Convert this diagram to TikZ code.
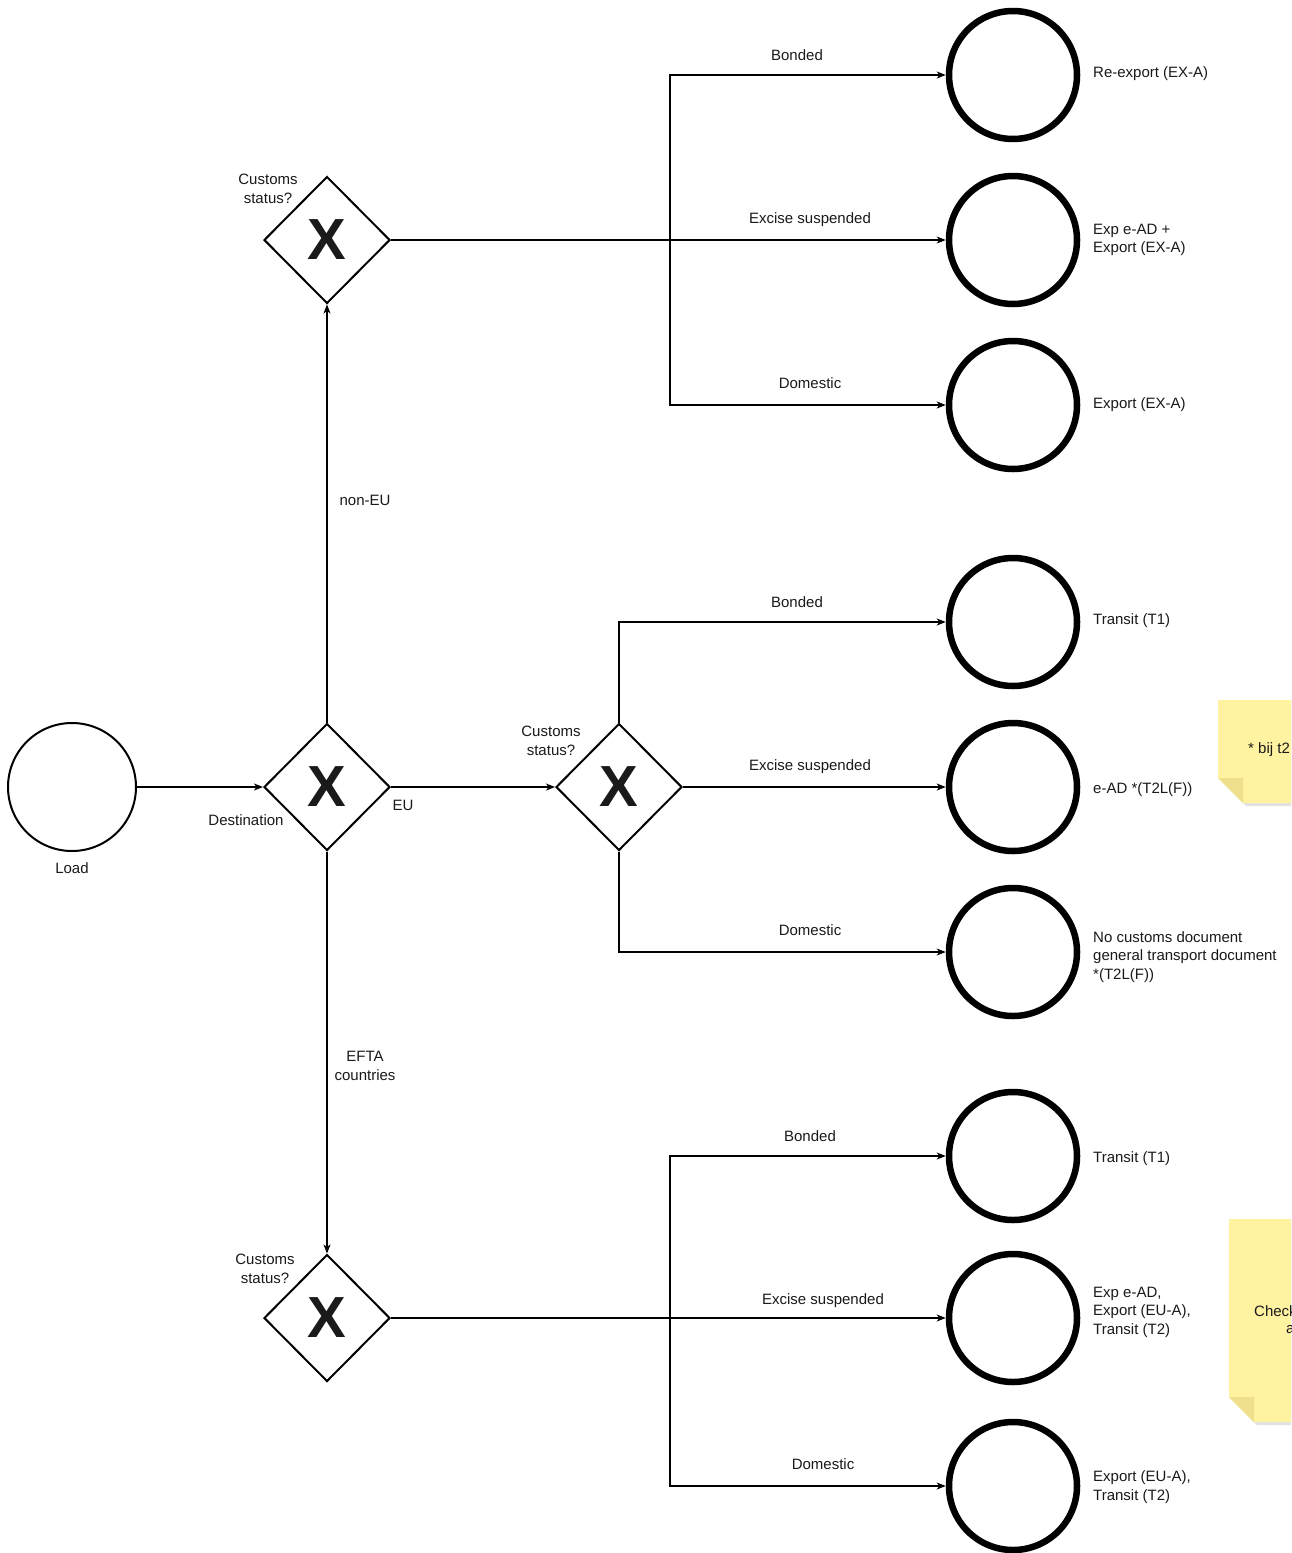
\documentclass[tikz,border=0pt]{standalone}
\usepackage{fontspec}
\setmainfont{Liberation Sans}
\usetikzlibrary{shapes.geometric,arrows.meta}
\definecolor{txt}{HTML}{1A1A1A}
\definecolor{notefill}{RGB}{255,242,160}
\definecolor{notefold}{RGB}{238,224,140}
\definecolor{noteshadow}{RGB}{226,226,226}
\begin{document}
\begin{tikzpicture}[x=1pt,y=-1pt,
  every node/.style={font=\fontsize{15}{18.5}\selectfont, text=txt},
  lbl/.style={inner sep=0pt, align=center},
  endlbl/.style={inner sep=0pt, align=left, anchor=west},
  startev/.style={circle, draw=black, line width=2pt, minimum size=128pt, inner sep=0pt},
  endev/.style={circle, draw=black, line width=6.5pt, minimum size=128pt, inner sep=0pt},
  gateway/.style={diamond, draw=black, line width=2pt, minimum width=126pt, minimum height=127pt, inner sep=0pt,
    font=\fontsize{58}{58}\bfseries\selectfont},
  arr/.style={draw=black, line width=1.2pt, -{Stealth[length=9pt,width=7pt,inset=2.5pt]}}
]
\useasboundingbox (0,0) rectangle (1291,1553);
\fill[white] (0,0) rectangle (1291,1553);

% sticky notes (clipped at the picture edge, as in the reference)
\begin{scope}
\clip (0,0) rectangle (1291,1553);
\fill[noteshadow] (1221,704) -- (1305,704) -- (1305,806) -- (1246,806) -- (1221,781) -- cycle;
\fill[notefill] (1218,700) -- (1300,700) -- (1300,803) -- (1243,803) -- (1218,778) -- cycle;
\fill[notefold] (1218,778) -- (1243,778) -- (1243,803) -- cycle;
\node[lbl, anchor=west] (note1) at (1248,750) {* bij t2};
\fill[noteshadow] (1232,1223) -- (1305,1223) -- (1305,1425) -- (1257,1425) -- (1232,1400) -- cycle;
\fill[notefill] (1229,1219) -- (1300,1219) -- (1300,1422) -- (1254,1422) -- (1229,1397) -- cycle;
\fill[notefold] (1229,1397) -- (1254,1397) -- (1254,1422) -- cycle;
\node[lbl, anchor=west] (note2a) at (1254,1311) {Check};
\node[lbl, anchor=west] (note2b) at (1286,1330) {a};
\end{scope}

% nodes
\node[startev] (load) at (72,787) {};
\node[lbl] (loadlbl) at (72,868) {Load};

\node[gateway] (gdest) at (327,787) {X};
\node[gateway] (gnon) at (327,240) {X};
\node[gateway] (geu) at (619,787) {X};
\node[gateway] (gefta) at (327,1318) {X};

\node[lbl] (ldest) at (246,820) {Destination};
\node[lbl] (lnon) at (268,189) {Customs\\status?};
\node[lbl] (leu) at (551,741) {Customs\\status?};
\node[lbl] (lefta) at (265,1269) {Customs\\status?};

\node[endev] (e1) at (1013,75) {};
\node[endev] (e2) at (1013,240) {};
\node[endev] (e3) at (1013,405) {};
\node[endev] (e4) at (1013,622) {};
\node[endev] (e5) at (1013,787) {};
\node[endev] (e6) at (1013,952) {};
\node[endev] (e7) at (1013,1156) {};
\node[endev] (e8) at (1013,1318) {};
\node[endev] (e9) at (1013,1486) {};

\node[endlbl] (t1) at (1093,74) {Re-export (EX-A)};
\node[endlbl] (t2) at (1093,240) {Exp e-AD +\\Export (EX-A)};
\node[endlbl] (t3) at (1093,405) {Export (EX-A)};
\node[endlbl] (t4) at (1093,621) {Transit (T1)};
\node[endlbl] (t5) at (1093,790) {e-AD *(T2L(F))};
\node[endlbl] (t6) at (1093,957) {No customs document\\general transport document\\*(T2L(F))};
\node[endlbl] (t7) at (1093,1159) {Transit (T1)};
\node[endlbl] (t8) at (1093,1312) {Exp e-AD,\\Export (EU-A),\\Transit (T2)};
\node[endlbl] (t9) at (1093,1487) {Export (EU-A),\\Transit (T2)};

% junction coordinates
\coordinate (j1) at (670,240);
\coordinate (j3) at (670,1318);

% connectors
\draw[arr] (load) -- (gdest);
\draw[arr] (gdest) -- (gnon);
\node[lbl] (lnoneu) at (365,500) {non-EU};
\draw[arr] (gdest) -- (geu);
\node[lbl] (leuedge) at (403,805) {EU};
\draw[arr] (gdest) -- (gefta);
\node[lbl] (lefedge) at (365,1066) {EFTA\\countries};

\draw[arr] (gnon.east) -- (j1) |- (e1.west);
\draw[arr] (gnon.east) -- (e2.west);
\draw[arr] (gnon.east) -- (j1) |- (e3.west);
\node[lbl] (b1) at (797,55) {Bonded};
\node[lbl] (x1) at (810,220) {Excise suspended};
\node[lbl] (d1) at (810,383) {Domestic};

\draw[arr] (geu.north) |- (e4.west);
\draw[arr] (geu.east) -- (e5.west);
\draw[arr] (geu.south) |- (e6.west);
\node[lbl] (b2) at (797,602) {Bonded};
\node[lbl] (x2) at (810,767) {Excise suspended};
\node[lbl] (d2) at (810,930) {Domestic};

\draw[arr] (gefta.east) -- (j3) |- (e7.west);
\draw[arr] (gefta.east) -- (e8.west);
\draw[arr] (gefta.east) -- (j3) |- (e9.west);
\node[lbl] (b3) at (810,1136) {Bonded};
\node[lbl] (x3) at (823,1301) {Excise suspended};
\node[lbl] (d3) at (823,1464) {Domestic};
\end{tikzpicture}
\end{document}
